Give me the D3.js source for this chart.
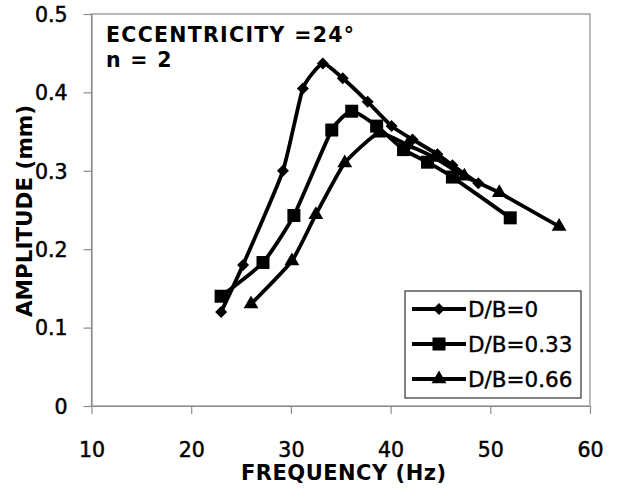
<!DOCTYPE html>
<html>
<head>
<meta charset="utf-8">
<script src="https://cdn.jsdelivr.net/npm/d3@7"></script>
<style>
  body { margin: 0; background: #fff; }
  text { font-family: "DejaVu Sans", Verdana, sans-serif; fill: #000; }
</style>
</head>
<body>
<div id="chart"></div>
<script>
// frequency (Hz) / amplitude (mm)
const freq0 = [23, 25.2, 29.2, 31.2, 33.2, 35.2, 37.7, 40.1, 42.2, 44.7, 46.2, 48.8];
const amp0 = [0.12, 0.18, 0.30, 0.405, 0.437, 0.418, 0.388, 0.357, 0.34, 0.321, 0.307, 0.284];
const freq33 = [23, 27.2, 30.3, 34.1, 36.1, 38.6, 41.3, 43.7, 46.2, 52];
const amp33 = [0.14, 0.183, 0.243, 0.352, 0.376, 0.357, 0.327, 0.311, 0.292, 0.24];
const freq66 = [26, 30.1, 32.5, 35.4, 38.8, 41.7, 44.4, 47.4, 50.9, 56.9];
const amp66 = [0.13, 0.185, 0.244, 0.31, 0.348, 0.333, 0.317, 0.293, 0.272, 0.229];

const seriesNames = ['D/B=0', 'D/B=0.33', 'D/B=0.66'];
const xTicks = [10, 20, 30, 40, 50, 60];
const yTicks = [0, 0.1, 0.2, 0.3, 0.4, 0.5];

const W = 619, H = 490;
const m = { left: 91.5, right: 590, top: 14, bottom: 406 };

const svg = d3.select('#chart').append('svg').attr('width', W).attr('height', H);

const x = d3.scaleLinear().domain([10, 60]).range([m.left, m.right]);
const y = d3.scaleLinear().domain([0, 0.5]).range([m.bottom, m.top]);

// plot frame
svg.append('rect')
  .attr('x', m.left).attr('y', m.top)
  .attr('width', m.right - m.left).attr('height', m.bottom - m.top)
  .attr('fill', 'none').attr('stroke', '#8c8c8c').attr('stroke-width', 1.2);

const xAxis = svg.append('g').attr('transform', `translate(0,${m.bottom})`)
  .call(d3.axisBottom(x).tickValues(xTicks).tickSizeInner(8).tickSizeOuter(0).tickPadding(28));
const yAxis = svg.append('g').attr('transform', `translate(${m.left},0)`)
  .call(d3.axisLeft(y).tickValues(yTicks).tickFormat(d3.format('')).tickSizeInner(8).tickSizeOuter(0).tickPadding(16));

[xAxis, yAxis].forEach(a => {
  a.select('.domain').attr('stroke', '#8c8c8c').attr('stroke-width', 1.2);
  a.selectAll('.tick line').attr('stroke', '#8c8c8c').attr('stroke-width', 1.2);
  a.selectAll('.tick text').attr('font-size', 20.5).attr('fill', '#000')
    .attr('stroke', '#000').attr('stroke-width', 0.5)
    .style('font-family', '"DejaVu Sans", sans-serif');
});
yAxis.selectAll('.tick text').attr('dy', '0.36em');

// symbols
const diamond = d3.symbol().type(d3.symbolSquare).size(72);
const square = d3.symbol().type(d3.symbolSquare).size(169);
const triangle = d3.symbol().type(d3.symbolTriangle).size(95);

const series = [
  { name: seriesNames[0], xs: freq0, ys: amp0, sym: diamond, rot: 45 },
  { name: seriesNames[1], xs: freq33, ys: amp33, sym: square, rot: 0 },
  { name: seriesNames[2], xs: freq66, ys: amp66, sym: triangle, rot: 0 }
];

// smoothed line, mild tension like the spreadsheet original
const line = d3.line().x(d => x(d[0])).y(d => y(d[1])).curve(d3.curveCardinal.tension(0.5));

series.forEach(s => {
  const pts = s.xs.map((f, i) => [f, s.ys[i]]);
  svg.append('path').datum(pts)
    .attr('d', line).attr('fill', 'none')
    .attr('stroke', '#000').attr('stroke-width', 3.8).attr('stroke-linejoin', 'round');
  svg.selectAll(null).data(pts).enter().append('path')
    .attr('d', s.sym)
    .attr('transform', d => `translate(${x(d[0])},${y(d[1])}) rotate(${s.rot})`)
    .attr('fill', '#000');
});

// titles
svg.append('text').attr('x', 106).attr('y', 42)
  .attr('font-size', 20.5).attr('font-weight', 'bold').attr('letter-spacing', 1.3)
  .text('ECCENTRICITY =24°');
svg.append('text').attr('x', 106).attr('y', 67)
  .attr('font-size', 20.5).attr('font-weight', 'bold').attr('letter-spacing', 1.3)
  .text('n = 2');

svg.append('text').attr('x', (m.left + m.right) / 2 + 3).attr('y', 480)
  .attr('text-anchor', 'middle').attr('font-size', 21).attr('font-weight', 'bold')
  .attr('letter-spacing', 0.5).text('FREQUENCY (Hz)');
svg.append('text')
  .attr('transform', 'translate(32,211) rotate(-90)')
  .attr('text-anchor', 'middle').attr('font-size', 21.5).attr('font-weight', 'bold')
  .text('AMPLITUDE (mm)');

// legend
const lg = svg.append('g');
lg.append('rect').attr('x', 405).attr('y', 291).attr('width', 176).attr('height', 107)
  .attr('fill', '#fff').attr('stroke', '#333').attr('stroke-width', 1.2);
series.forEach((s, i) => {
  const cy = 309 + i * 35;
  lg.append('line').attr('x1', 412).attr('x2', 466).attr('y1', cy).attr('y2', cy)
    .attr('stroke', '#000').attr('stroke-width', 3.8);
  lg.append('path').attr('d', s.sym)
    .attr('transform', `translate(439,${cy}) rotate(${s.rot})`).attr('fill', '#000');
  lg.append('text').attr('x', 468).attr('y', cy).attr('dy', '0.36em')
    .attr('font-size', 21.5).attr('stroke', '#000').attr('stroke-width', 0.4)
    .text(s.name);
});
</script>
</body>
</html>
